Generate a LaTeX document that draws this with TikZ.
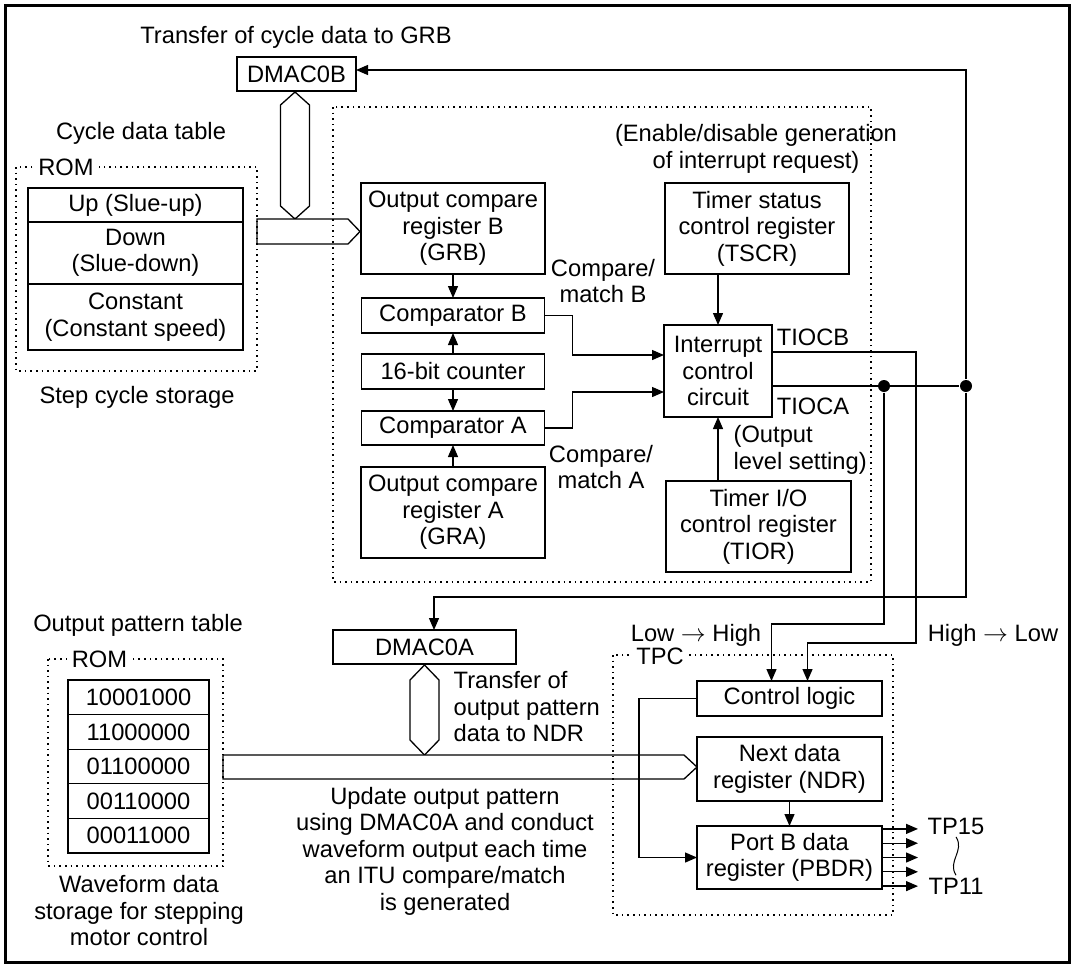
\documentclass[tikz,border=0pt]{standalone}
\usepackage{fontspec}
\setmainfont{Liberation Sans}
\usetikzlibrary{arrows.meta,positioning}

\begin{document}
\begin{tikzpicture}[x=1pt, y=-1pt,
  font=\fontsize{23.7}{26.5}\selectfont,
  line width=1.3pt,
  regbox/.style={draw, align=center, inner sep=0pt, outer sep=0pt, minimum width=184pt},
  rowbox/.style={draw, align=center, inner sep=0pt, outer sep=0pt},
  dotbox/.style={dash pattern=on 1.6pt off 4pt},
  bus/.style={draw, fill=white},
  arr/.style={-{Triangle[length=12pt,width=10pt]}},
  dot/.style={circle, fill, inner sep=0pt, minimum size=12pt},
  lab/.style={fill=white, inner xsep=5pt, inner ysep=1pt},
  txt/.style={inner sep=1pt, align=center}
]
  \useasboundingbox (0,0) rectangle (1075,967);
  \draw[line width=3pt] (5,5) rectangle (1069,962);

  % cycle data side
  \node[txt] (ttlb) at (296,37) {Transfer of cycle data to GRB};
  \node[regbox, minimum width=119pt, minimum height=34pt] (dmacb) at (296.5,74) {DMAC0B};
  \node[txt] (ttlcyc) at (141,133) {Cycle data table};
  \node[rowbox, minimum width=215pt, minimum height=34pt] (up) at (135.5,205) {Up (Slue-up)};
  \node[rowbox, minimum width=215pt, minimum height=62pt, below=0pt of up] (down) {Down\\(Slue-down)};
  \node[rowbox, minimum width=215pt, minimum height=66pt, below=0pt of down] (const) {Constant\\(Constant speed)};
  \node[txt] (stepst) at (137,397) {Step cycle storage};

  \draw[bus] (295,92) -- (309.5,105) -- (309.5,206) -- (295,219) -- (280.5,206) -- (280.5,105) -- cycle;
  \draw[bus] (257,219) -- (348,219) -- (360,231.5) -- (348,244) -- (257,244) -- cycle;

  % ITU
  \node[regbox, minimum height=91pt] (grb) at (453,228.5) {Output compare\\register B\\(GRB)};
  \node[regbox, minimum width=183pt, minimum height=35pt, below=24pt of grb] (cmpb) {Comparator B};
  \node[regbox, minimum width=183pt, minimum height=35pt, below=21pt of cmpb] (cnt) {16-bit counter};
  \node[regbox, minimum width=183pt, minimum height=34pt, below=22pt of cnt] (cmpa) {Comparator A};
  \node[regbox, minimum height=91pt, below=22pt of cmpa] (gra) {Output compare\\register A\\(GRA)};
  \node[regbox, minimum height=91pt] (tscr) at (757,228.5) {Timer status\\control register\\(TSCR)};
  \node[regbox, minimum width=108pt, minimum height=92pt] (intc) at (718,371) {Interrupt\\control\\circuit};
  \node[regbox, minimum width=185pt, minimum height=91pt] (tior) at (758.5,526.5) {Timer I/O\\control register\\(TIOR)};
  \node[txt] (enable) at (756,149) {(Enable/disable generation\\of interrupt request)};
  \node[txt] (cmb) at (603,281) {Compare/\\match B};
  \node[txt] (cma) at (601,467) {Compare/\\match A};
  \node[txt] (tiocb) at (813,337) {TIOCB};
  \node[txt] (tioca) at (813,406) {TIOCA};
  \node[txt, align=left, anchor=west] (outlvl) at (732,450) {(Output\\level setting)};

  \draw[arr] (grb) -- (cmpb);
  \draw[arr] (cnt) -- (cmpb);
  \draw[arr] (cnt) -- (cmpa);
  \draw[arr] (gra) -- (cmpa);
  \draw[arr] (cmpb.east) -- ++(28,0) |- ([yshift=16pt]intc.west);
  \draw[arr] (cmpa.east) -- ++(28,0) |- ([yshift=-21pt]intc.west);
  \draw[arr] (tscr.south -| intc.north) -- (intc.north);
  \draw[arr] (tior.north -| intc.south) -- (intc.south);

  % output pattern side
  \node[txt] (ttlpat) at (138,625) {Output pattern table};
  \node[rowbox, minimum width=141pt, minimum height=34.6pt] (pat1) at (138.5,697.3) {10001000};
  \foreach \bits [count=\i from 2] in {11000000,01100000,00110000,00011000}{
    \pgfmathtruncatemacro\prev{\i-1}
    \node[rowbox, minimum width=141pt, minimum height=34.6pt, below=0pt of pat\prev] (pat\i) {\bits};
  }
  \node[txt] (wavest) at (139,911) {Waveform data\\storage for stepping\\motor control};

  \node[regbox, minimum width=183pt, minimum height=34pt] (dmaca) at (424.5,647) {DMAC0A};
  \draw[bus] (424.5,665) -- (439,680) -- (439,740) -- (424.5,755) -- (410,740) -- (410,680) -- cycle;
  \draw[bus] (223,755) -- (684,755) -- (697,767) -- (684,779) -- (223,779) -- cycle;
  \node[txt, align=left, anchor=west] (xfer) at (452,707) {Transfer of\\output pattern\\data to NDR};
  \node[txt] (update) at (445,851) {Update output pattern\\using DMAC0A and conduct\\waveform output each time\\an ITU compare/match\\is generated};

  % TPC
  \node[regbox, minimum width=185pt, minimum height=35pt] (ctrl) at (789.5,698.5) {Control logic};
  \node[regbox, minimum width=185pt, minimum height=64pt, below=21pt of ctrl] (ndr) {Next data\\register (NDR)};
  \node[regbox, minimum width=185pt, minimum height=63pt, below=25pt of ndr] (pbdr) {Port B data\\register (PBDR)};
  \node[txt] (lowhigh) at (696,635) {Low $\rightarrow$ High};
  \node[txt] (highlow) at (993,635) {High $\rightarrow$ Low};
  \node[txt, inner sep=2pt] (tp15) at (956,826) {TP15};
  \node[txt, inner sep=2pt] (tp11) at (956,886) {TP11};
  \draw[line width=1pt] (tp15.south) .. controls +(9,14) and +(-9,-14) .. (tp11.north);

  % dotted outlines
  \draw[dotbox] (16,167) rectangle (257,371);
  \node[lab] (rom1) at (66,167) {ROM};
  \draw[dotbox] (333,107) rectangle (871,582);
  \draw[dotbox] (48,659) rectangle (223,866);
  \node[lab] (rom2) at (99.5,659) {ROM};
  \draw[dotbox] (613,655) rectangle (893,915);
  \node[lab] (tpc) at (660,656) {TPC};

  \draw[arr] (ctrl.west) -- ++(-58,0) |- (pbdr.west);
  \draw[arr] (ndr) -- (pbdr);
  \foreach \k in {-2,...,2}
    \draw[arr] ([yshift=\k*14.3pt]pbdr.east) -- ++(36,0);

  % compare/match outputs
  \node[dot] (ja) at (884,386) {};
  \node[dot] (jb) at (966,386) {};
  \coordinate (lh) at ([xshift=-18pt]ctrl.north);
  \coordinate (hl) at ([xshift=18pt]ctrl.north);
  \coordinate (da) at ([xshift=9.5pt]dmaca.north);
  \draw (intc.east |- ja) -- (jb);
  \draw[arr] (ja) -- ++(0,238) -| (lh);
  \draw[arr] ([yshift=19pt]intc.east) -- ++(144,0) -- ++(0,291) -| (hl);
  \draw[arr] (jb) |- ([yshift=4pt]dmacb.east);
  \draw[arr] (jb) -- ++(0,211) -| (da);
\end{tikzpicture}
\end{document}
